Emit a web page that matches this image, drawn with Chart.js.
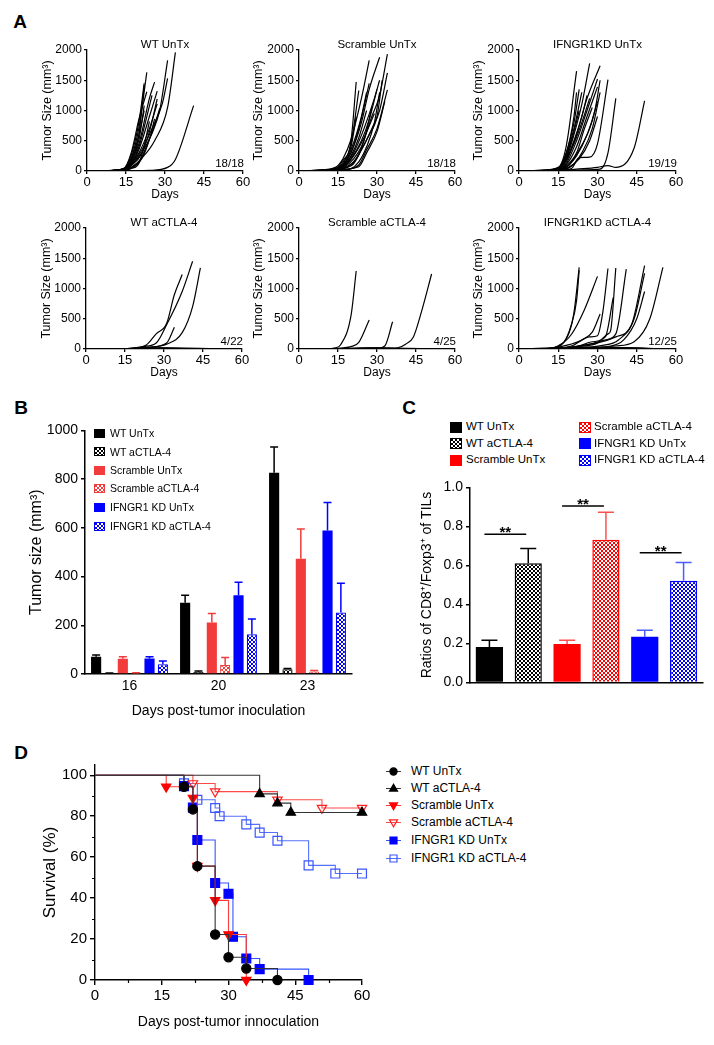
<!DOCTYPE html>
<html>
<head>
<meta charset="utf-8">
<script src="https://cdn.jsdelivr.net/npm/chart.js@4.4.1/dist/chart.umd.min.js"></script>
<style>
html,body{margin:0;padding:0;background:#fff;}
body{position:relative;width:714px;height:1045px;overflow:hidden;font-family:"Liberation Sans",Arial,Helvetica,sans-serif;color:#000;}
canvas{position:absolute;}
.tx{position:absolute;white-space:nowrap;line-height:1;}
.sw{position:absolute;box-sizing:border-box;}
</style>
</head>
<body>
<script>
// ================= DATA =================
// Panel A: individual tumor growth curves, [day, size mm3]
const dayTicks = [0, 15, 30, 45, 60];
const sizeTicks = [0, 500, 1000, 1500, 2000];
const aTitles = ['WT UnTx', 'Scramble UnTx', 'IFNGR1KD UnTx', 'WT aCTLA-4', 'Scramble aCTLA-4', 'IFNGR1KD  aCTLA-4'];
const aCounts = ['18/18', '18/18', '19/19', '4/22', '4/25', '12/25'];

const wtUntxMice = [
 [[0,0],[7,4],[14,30],[17,160],[20,620],[22,1420]],
 [[0,0],[7,5],[14,25],[17,210],[20,720],[23,1630]],
 [[0,0],[7,3],[14,40],[17,260],[20,820],[22,1450]],
 [[0,0],[7,6],[14,20],[17,180],[20,520],[22,1080]],
 [[0,0],[7,4],[14,35],[17,300],[20,860],[23,1310]],
 [[0,0],[7,5],[14,30],[17,160],[20,450],[24,1200],[26,1470]],
 [[0,0],[7,3],[14,20],[17,110],[20,360],[24,900],[27,1320]],
 [[0,0],[7,4],[14,25],[17,120],[20,300],[24,700],[27,1110]],
 [[0,0],[7,2],[14,15],[17,90],[21,300],[25,620],[28,1010],[31,1830]],
 [[0,0],[7,3],[14,10],[17,60],[21,210],[26,500],[31,1050],[34,1960]],
 [[0,0],[7,2],[14,20],[17,100],[21,340],[25,700],[29,1120],[31,1530]],
 [[0,0],[7,5],[14,25],[17,130],[20,400],[23,900],[25,1250]],
 [[0,0],[7,4],[14,30],[17,200],[20,600],[22,1000]],
 [[0,0],[7,2],[14,10],[17,50],[21,200],[24,520],[26,860]],
 [[0,0],[7,1],[14,15],[20,150],[23,420],[26,760],[28,1040]],
 [[0,0],[7,3],[14,20],[17,90],[21,280],[24,650],[27,1190]],
 [[0,0],[7,2],[14,5],[17,40],[20,130],[22,420],[24,820]],
 [[0,0],[14,0],[24,10],[31,60],[34,190],[41,1080]]
];
const scrUntxMice = [
 [[0,0],[7,10],[14,40],[17,150],[20,500],[22,1470]],
 [[0,0],[7,8],[14,30],[17,120],[20,450],[23,1330]],
 [[0,0],[7,15],[14,60],[17,210],[20,520],[24,1200],[27,1830]],
 [[0,0],[7,6],[14,20],[17,100],[20,300],[24,800],[27,1350],[31,1880]],
 [[0,0],[7,5],[14,15],[17,80],[21,300],[25,700],[29,1200],[31,1500]],
 [[0,0],[7,4],[14,10],[17,50],[21,200],[24,400],[28,900],[31,1250],[34,1930]],
 [[0,0],[7,3],[14,10],[17,40],[21,150],[24,350],[28,700],[31,1000],[34,1620]],
 [[0,0],[7,2],[14,5],[17,20],[23,100],[26,350],[30,700],[34,1340]],
 [[0,0],[7,6],[14,20],[17,90],[20,350],[24,900],[26,1300]],
 [[0,0],[7,7],[14,30],[17,100],[20,300],[23,700],[27,1450]],
 [[0,0],[7,4],[14,15],[17,60],[21,250],[25,550],[29,950]],
 [[0,0],[7,3],[14,10],[17,30],[23,70],[26,300],[30,650],[33,1150]],
 [[0,0],[7,5],[14,20],[17,80],[20,250],[23,550],[26,1000]],
 [[0,0],[7,2],[14,10],[18,60],[22,200],[25,500],[28,1050]],
 [[0,0],[7,9],[14,40],[17,180],[20,400],[22,900]],
 [[0,0],[7,1],[14,5],[20,40],[23,150],[26,400],[29,800],[31,1300]],
 [[0,0],[7,6],[14,30],[17,70],[20,200],[24,500],[27,850],[30,1350]],
 [[0,0],[7,2],[14,10],[18,50],[21,120],[24,350],[27,600],[30,900],[32,1500]]
];
const ifnUntxMice = [
 [[0,0],[8,10],[15,60],[18,400],[22,1650]],
 [[0,0],[8,8],[15,50],[18,300],[21,800],[23,1350]],
 [[0,0],[8,7],[15,40],[18,250],[21,700],[24,1300]],
 [[0,0],[8,6],[15,30],[18,200],[21,600],[24,1100],[27,1780]],
 [[0,0],[8,5],[15,20],[18,150],[22,600],[26,1200],[31,1740]],
 [[0,0],[8,5],[15,25],[18,120],[22,500],[26,1000],[30,1520]],
 [[0,0],[8,4],[15,20],[18,100],[22,400],[26,900],[30,1390]],
 [[0,0],[8,8],[15,40],[18,220],[21,650],[23,1000]],
 [[0,0],[8,6],[15,30],[18,180],[21,500],[24,900],[26,1250]],
 [[0,0],[8,3],[15,15],[19,90],[23,350],[27,700],[30,1150]],
 [[0,0],[8,2],[15,10],[19,60],[23,200],[27,500],[30,900]],
 [[0,0],[8,2],[15,10],[20,40],[23,220],[27,230],[30,450],[34,1510]],
 [[0,0],[8,1],[15,5],[25,20],[31,30],[34,300],[37,1200]],
 [[0,0],[8,1],[15,5],[22,30],[30,60],[34,90],[37,60],[44,380],[48,1160]],
 [[0,0],[8,7],[15,35],[18,200],[21,450],[24,800],[27,1200]],
 [[0,0],[8,4],[15,20],[18,80],[22,300],[25,700],[28,1050]],
 [[0,0],[8,9],[15,45],[18,280],[21,900],[22,1300]],
 [[0,0],[8,3],[15,15],[19,100],[22,250],[26,600],[29,1000],[31,1500]],
 [[0,0],[8,2],[15,10],[20,80],[24,300],[28,700],[31,1300]]
];
const wtCtlaMice = [
 [[0,0],[10,2],[17,10],[23,60],[27,250],[31,420],[34,900],[37,1230]],
 [[0,0],[10,2],[17,12],[22,40],[27,100],[31,400],[37,950],[41,1450]],
 [[0,0],[10,1],[17,8],[24,30],[31,100],[34,360]],
 [[0,0],[10,1],[17,6],[24,25],[31,80],[37,270],[41,700],[44,1340]],
 [[0,0],[15,3],[25,8],[60,0]], [[0,0],[14,5],[21,10],[60,0]], [[0,0],[16,4],[28,12],[60,0]],
 [[0,0],[13,2],[24,6],[60,0]], [[0,0],[17,6],[30,15],[60,0]], [[0,0],[15,4],[22,9],[60,0]],
 [[0,0],[18,5],[27,7],[60,0]], [[0,0],[14,3],[20,6],[60,0]], [[0,0],[16,6],[26,11],[60,0]],
 [[0,0],[15,2],[23,5],[60,0]], [[0,0],[17,4],[29,9],[60,0]], [[0,0],[13,3],[19,7],[60,0]],
 [[0,0],[18,7],[25,13],[60,0]], [[0,0],[14,4],[31,8],[60,0]], [[0,0],[16,3],[24,4],[60,0]],
 [[0,0],[15,5],[28,10],[60,0]], [[0,0],[17,2],[22,6],[60,0]], [[0,0],[14,6],[26,9],[60,0]]
];
const scrCtlaMice = [
 [[0,0],[10,2],[14,20],[16,70],[20,550],[22,1290]],
 [[0,0],[10,2],[17,20],[20,40],[23,110],[27,480]],
 [[0,0],[20,5],[30,10],[33,50],[36,450]],
 [[0,0],[20,3],[35,10],[38,20],[41,80],[44,200],[47,600],[51,1240]],
 [[0,0],[15,4],[24,10],[60,0]], [[0,0],[14,3],[22,8],[60,0]], [[0,0],[16,5],[27,12],[60,0]],
 [[0,0],[13,2],[21,6],[60,0]], [[0,0],[17,6],[29,14],[60,0]], [[0,0],[15,3],[23,7],[60,0]],
 [[0,0],[18,4],[26,9],[60,0]], [[0,0],[14,2],[20,5],[60,0]], [[0,0],[16,6],[25,10],[60,0]],
 [[0,0],[15,3],[30,6],[60,0]], [[0,0],[17,5],[28,11],[60,0]], [[0,0],[13,4],[19,8],[60,0]],
 [[0,0],[18,6],[24,12],[60,0]], [[0,0],[14,3],[32,7],[60,0]], [[0,0],[16,2],[23,4],[60,0]],
 [[0,0],[15,5],[27,9],[60,0]], [[0,0],[17,3],[21,6],[60,0]], [[0,0],[14,5],[26,8],[60,0]],
 [[0,0],[16,4],[29,10],[60,0]], [[0,0],[15,2],[22,5],[60,0]], [[0,0],[18,5],[31,9],[60,0]]
];
const ifnCtlaMice = [
 [[0,0],[10,5],[15,50],[19,250],[21,600],[23,1350]],
 [[0,0],[10,5],[16,60],[20,400],[22,800],[23,1300]],
 [[0,0],[10,4],[15,50],[20,240],[25,650],[30,1200]],
 [[0,0],[10,3],[20,50],[27,200],[30,220],[32,600],[34,1330]],
 [[0,0],[10,2],[25,50],[30,100],[34,250],[35,300],[37,1340]],
 [[0,0],[10,2],[27,80],[33,150],[37,250],[41,1320]],
 [[0,0],[10,2],[30,100],[37,200],[43,400],[48,1380]],
 [[0,0],[10,1],[32,60],[38,150],[44,500],[48,1250]],
 [[0,0],[10,1],[35,50],[40,150],[45,500],[48,950]],
 [[0,0],[10,1],[37,50],[44,120],[50,500],[55,1350]],
 [[0,0],[10,3],[18,60],[24,150],[28,280],[31,580]],
 [[0,0],[10,2],[22,40],[28,120],[33,200],[36,850]],
 [[0,0],[15,20],[25,30],[60,0]], [[0,0],[14,15],[22,25],[60,0]], [[0,0],[16,10],[28,20],[60,0]],
 [[0,0],[13,8],[21,15],[60,0]], [[0,0],[17,12],[30,18],[60,0]], [[0,0],[15,6],[23,10],[60,0]],
 [[0,0],[18,9],[26,14],[60,0]], [[0,0],[14,5],[20,9],[60,0]], [[0,0],[16,11],[27,16],[60,0]],
 [[0,0],[15,7],[31,12],[60,0]], [[0,0],[17,4],[24,8],[60,0]], [[0,0],[13,6],[19,10],[60,0]],
 [[0,0],[18,10],[29,13],[60,0]]
];

// Panel B: mean tumor size and SEM
const bDays = ['16', '20', '23'];
const bGroups = ['WT UnTx', 'WT aCTLA-4', 'Scramble UnTx', 'Scramble aCTLA-4', 'IFNGR1 KD UnTx', 'IFNGR1 KD aCTLA-4'];
const bWtUntx = [71, 292, 826];   const bWtUntxSem = [7, 31, 106];
const bWtCtla = [3, 8, 19];       const bWtCtlaSem = [1, 4, 4];
const bScrUntx = [63, 211, 473];  const bScrUntxSem = [8, 37, 122];
const bScrCtla = [4, 37, 10];     const bScrCtlaSem = [1, 31, 4];
const bIfnUntx = [64, 323, 589];  const bIfnUntxSem = [7, 54, 115];
const bIfnCtla = [40, 163, 252];  const bIfnCtlaSem = [13, 63, 121];
const bTicks = [0, 200, 400, 600, 800, 1000];

// Panel C: CD8+/Foxp3+ ratios
const cGroups = ['WT UnTx', 'WT aCTLA-4', 'Scramble UnTx', 'Scramble aCTLA-4', 'IFNGR1 KD UnTx', 'IFNGR1 KD aCTLA-4'];
const cRatio = [0.182, 0.612, 0.198, 0.732, 0.235, 0.522];
const cSem = [0.035, 0.075, 0.019, 0.141, 0.033, 0.093];
const cTicks = [0, 0.2, 0.4, 0.6, 0.8, 1.0];
const cSigPairs = [[0, 1, 0.76], [2, 3, 0.905], [4, 5, 0.665]];
const cSigText = ['**', '**', '**'];

// Panel D: Kaplan-Meier survival (day, % survival)
const dWtUntxT = [0, 20, 22, 23, 27, 30, 34, 41];
const dWtUntxS = [100, 94.4, 83.3, 55.6, 22.2, 11.1, 5.6, 0];
const dWtCtlaT = [0, 37, 41, 44, 60];
const dWtCtlaS = [100, 90.9, 86.4, 81.8, 81.8];
const dScrUntxT = [0, 16, 22, 23, 27, 30, 34];
const dScrUntxS = [100, 94.4, 88.9, 55.6, 38.9, 22.2, 0];
const dScrCtlaT = [0, 22, 27, 41, 51, 60];
const dScrCtlaS = [100, 96, 92, 88, 84, 84];
const dIfnUntxT = [0, 20, 22, 23, 27, 30, 31, 34, 37, 48];
const dIfnUntxS = [100, 94.7, 84.2, 68.4, 47.4, 42.1, 21.1, 10.5, 5.3, 0];
const dIfnCtlaT = [0, 20, 23, 27, 28, 34, 37, 41, 48, 54, 60];
const dIfnCtlaS = [100, 96, 88, 84, 80, 76, 72, 68, 56, 52, 52];
const dLabels = ['WT UnTx', 'WT aCTLA-4', 'Scramble UnTx', 'Scramble aCTLA-4', 'IFNGR1 KD UnTx', 'IFNGR1 KD aCTLA-4'];
const dTicksY = [0, 20, 40, 60, 80, 100];
const dMinorX = [7.5, 22.5, 37.5, 52.5];
const dMinorY = [10, 30, 50, 70, 90];

// ================= HELPERS =================
Chart.defaults.font.family = "'Liberation Sans', Arial, Helvetica, sans-serif";
Chart.defaults.color = '#000';
Chart.defaults.animation = false;
Chart.defaults.plugins.legend.display = false;
Chart.defaults.plugins.tooltip.enabled = false;

function makeCanvas(g) {
  const lhY = g.yTitleSize * 1.2;
  const cl = Math.round(g.yTitleX - lhY / 2);
  const ct = g.T - g.padTop;
  const yW = g.L - cl;
  const xH = g.xTitleY ? Math.round(g.xTitleY + g.xTitleSize * 1.2 / 2 - g.B) : g.xH;
  const w = g.R - cl + g.padRight;
  const h = g.B - ct + xH;
  const c = document.createElement('canvas');
  c.width = w; c.height = h;
  c.style.left = cl + 'px'; c.style.top = ct + 'px';
  c.style.width = w + 'px'; c.style.height = h + 'px';
  document.body.appendChild(c);
  return {canvas: c, yW, xH, padTop: g.padTop, padRight: g.padRight};
}

function axis(f, a, pos) {
  const isX = pos === 'bottom';
  const o = {
    type: a.type || 'linear', position: pos,
    afterFit: s => { if (isX) s.height = f.xH; else s.width = f.yW; },
    ticks: {display: a.showTicks !== false, font: {size: a.tickSize}, color: '#000', padding: a.tickPad, maxRotation: 0, autoSkip: false},
    grid: {display: true, drawOnChartArea: false, drawTicks: a.tickLen > 0, tickLength: a.tickLen || 0, color: '#000', lineWidth: a.lw},
    border: {display: true, color: '#000', width: a.lw},
    title: {display: !!a.title, text: a.title || '', font: {size: a.titleSize || 12}, color: '#000', padding: 0}
  };
  if (a.min !== undefined) o.min = a.min;
  if (a.max !== undefined) o.max = a.max;
  if (a.ticks) o.afterBuildTicks = s => { s.ticks = a.ticks.map(v => ({value: v})); };
  if (a.fmt) o.ticks.callback = a.fmt;
  return o;
}

function txt(s, x, y, size, align, extra) {
  const d = document.createElement('div');
  d.className = 'tx';
  d.textContent = s;
  d.style.fontSize = size + 'px';
  d.style.left = x + 'px'; d.style.top = y + 'px';
  const tx = align === 'left' ? '0' : align === 'right' ? '-100%' : '-50%';
  d.style.transform = 'translate(' + tx + ',-50%)';
  if (extra) Object.assign(d.style, extra);
  document.body.appendChild(d);
  return d;
}

function checkTile(color) {
  const c = document.createElement('canvas'); c.width = 4; c.height = 4;
  const x = c.getContext('2d');
  x.fillStyle = '#fff'; x.fillRect(0, 0, 4, 4);
  x.fillStyle = color; x.fillRect(0, 0, 2, 2); x.fillRect(2, 2, 2, 2);
  return c;
}
const patCtx = document.createElement('canvas').getContext('2d');
function checkPattern(color) { return patCtx.createPattern(checkTile(color), 'repeat'); }

const errorBars = {
  id: 'errorBars',
  afterDatasetsDraw(chart, args, opts) {
    const ctx = chart.ctx;
    chart.data.datasets.forEach((ds, i) => {
      if (!ds.errors) return;
      const meta = chart.getDatasetMeta(i);
      const ys = chart.scales[meta.yAxisID];
      meta.data.forEach((bar, j) => {
        const top = ys.getPixelForValue(ds.data[j] + ds.errors[j]);
        const col = Array.isArray(ds.errColor) ? ds.errColor[j] : ds.errColor;
        ctx.save();
        ctx.strokeStyle = col; ctx.lineWidth = opts.width;
        ctx.beginPath();
        ctx.moveTo(bar.x, bar.y); ctx.lineTo(bar.x, top);
        ctx.moveTo(bar.x - opts.cap, top); ctx.lineTo(bar.x + opts.cap, top);
        ctx.stroke();
        ctx.restore();
      });
    });
  }
};

const sigBars = {
  id: 'sigBars',
  afterDatasetsDraw(chart, args, o) {
    if (!o.pairs) return;
    const ctx = chart.ctx, xs = chart.scales.x, ys = chart.scales.y;
    o.pairs.forEach((p, k) => {
      const x1 = xs.getPixelForValue(p[0]) - 5, x2 = xs.getPixelForValue(p[1]) - 2;
      const y = ys.getPixelForValue(p[2]);
      ctx.save();
      ctx.strokeStyle = '#000'; ctx.lineWidth = 1.5;
      ctx.beginPath(); ctx.moveTo(x1, y); ctx.lineTo(x2, y); ctx.stroke();
      ctx.fillStyle = '#000';
      ctx.font = "bold 15px 'Liberation Sans', Arial, sans-serif";
      ctx.textAlign = 'center'; ctx.textBaseline = 'alphabetic';
      ctx.fillText(o.labels[k], (x1 + x2) / 2, y + 3);
      ctx.restore();
    });
  }
};

const minorTicks = {
  id: 'minorTicks',
  afterDraw(chart, args, o) {
    if (!o.x) return;
    const ctx = chart.ctx, xs = chart.scales.x, ys = chart.scales.y, a = chart.chartArea;
    ctx.save(); ctx.strokeStyle = '#000'; ctx.lineWidth = 1.2; ctx.beginPath();
    o.x.forEach(v => { const px = Math.round(xs.getPixelForValue(v)) + 0.5; ctx.moveTo(px, a.bottom); ctx.lineTo(px, a.bottom + o.len); });
    o.y.forEach(v => { const py = Math.round(ys.getPixelForValue(v)) + 0.5; ctx.moveTo(a.left, py); ctx.lineTo(a.left - o.len, py); });
    ctx.stroke(); ctx.restore();
  }
};

// ================= PANEL LETTERS =================
txt('A', 20, 21, 19, 'center', {fontWeight: 'bold'});
txt('B', 21, 407, 19, 'center', {fontWeight: 'bold'});
txt('C', 409, 407, 19, 'center', {fontWeight: 'bold'});
txt('D', 21, 752, 19, 'center', {fontWeight: 'bold'});

// ================= PANEL A =================
const aLayout = [
  {mice: wtUntxMice,  L: 87,  T: 50,  R: 243, B: 171, yTX: 47,  xTY: 195},
  {mice: scrUntxMice, L: 299, T: 50,  R: 455, B: 171, yTX: 258, xTY: 195},
  {mice: ifnUntxMice, L: 519, T: 50,  R: 676, B: 171, yTX: 478, xTY: 195},
  {mice: wtCtlaMice,  L: 86,  T: 228, R: 242, B: 349, yTX: 46,  xTY: 373},
  {mice: scrCtlaMice, L: 299, T: 228, R: 455, B: 349, yTX: 258, xTY: 373},
  {mice: ifnCtlaMice, L: 519, T: 228, R: 676, B: 349, yTX: 478, xTY: 373}
];
aLayout.forEach((p, i) => {
  const f = makeCanvas({L: p.L, T: p.T, R: p.R, B: p.B, yTitleX: p.yTX, yTitleSize: 12.5, xTitleY: p.xTY, xTitleSize: 12, padTop: 10, padRight: 12});
  new Chart(f.canvas, {
    type: 'line',
    data: {datasets: p.mice.map(m => ({
      data: m.map(q => ({x: q[0], y: q[1]})),
      borderColor: '#000', borderWidth: 1.2, pointRadius: 0, fill: false,
      cubicInterpolationMode: 'monotone'
    }))},
    options: {
      responsive: false,
      layout: {padding: {top: f.padTop, right: f.padRight, left: 0, bottom: 0}},
      scales: {
        x: axis(f, {min: 0, max: 60, ticks: dayTicks, tickSize: 13, tickLen: 3, tickPad: 1, lw: 1.3, title: 'Days', titleSize: 12, fmt: v => String(v)}, 'bottom'),
        y: axis(f, {min: 0, max: 2000, ticks: sizeTicks, tickSize: 12, tickLen: 3, tickPad: 2, lw: 1.3, title: 'Tumor Size (mm\u00B3)', titleSize: 12.5, fmt: v => String(v)}, 'left')
      }
    }
  });
  txt(aTitles[i], (p.L + p.R) / 2, p.T - 5, 11.5, 'center');
  txt(aCounts[i], p.R + 1, p.B - 7, 11.5, 'right');
});

// ================= PANEL B =================
const bMeans = [bWtUntx, bWtCtla, bScrUntx, bScrCtla, bIfnUntx, bIfnCtla];
const bSems = [bWtUntxSem, bWtCtlaSem, bScrUntxSem, bScrCtlaSem, bIfnUntxSem, bIfnCtlaSem];
const bColors = ['#000000', '#000000', '#f23c3c', '#f23c3c', '#0000ff', '#0000ff'];
const bChecked = [false, true, false, true, false, true];
(function () {
  const f = makeCanvas({L: 85, T: 429, R: 352, B: 674, yTitleX: 37, yTitleSize: 16, xTitleY: 712, xTitleSize: 14, padTop: 10, padRight: 12});
  new Chart(f.canvas, {
    type: 'bar',
    data: {
      labels: bDays,
      datasets: bGroups.map((g, i) => ({
        label: g, data: bMeans[i], errors: bSems[i], errColor: bColors[i],
        backgroundColor: bChecked[i] ? checkPattern(bColors[i]) : bColors[i],
        borderColor: bColors[i], borderWidth: bChecked[i] ? 1.2 : 0,
        barPercentage: 0.76, categoryPercentage: 0.9
      }))
    },
    options: {
      responsive: false,
      layout: {padding: {top: f.padTop, right: f.padRight, left: 0, bottom: 0}},
      scales: {
        x: axis(f, {type: 'category', tickSize: 14, tickLen: 0, tickPad: 4, lw: 1.5, title: 'Days post-tumor inoculation', titleSize: 14}, 'bottom'),
        y: axis(f, {min: 0, max: 1000, ticks: bTicks, tickSize: 14, tickLen: 4, tickPad: 3, lw: 1.5, title: 'Tumor size (mm\u00B3)', titleSize: 16, fmt: v => String(v)}, 'left')
      },
      plugins: {errorBars: {width: 1.5, cap: 4}}
    },
    plugins: [errorBars]
  });
  const rows = [433, 451.7, 470, 488.3, 507.3, 526];
  bGroups.forEach((g, i) => {
    const s = document.createElement('div');
    s.className = 'sw';
    Object.assign(s.style, {left: '94px', top: (rows[i] - 4.5) + 'px', width: '11px', height: '9px'});
    if (bChecked[i]) { s.style.backgroundImage = 'url(' + checkTile(bColors[i]).toDataURL() + ')'; s.style.border = '1px solid ' + bColors[i]; }
    else s.style.background = bColors[i];
    document.body.appendChild(s);
    txt(g, 110, rows[i], 10.5, 'left');
  });
})();

// ================= PANEL C =================
const cColors = ['#000000', '#000000', '#ff0000', '#ff0000', '#0000ff', '#0000ff'];
const cErrColors = ['#000000', '#000000', '#ff5050', '#ff5050', '#4a5cff', '#4a5cff'];
const cChecked = [false, true, false, true, false, true];
(function () {
  const f = makeCanvas({L: 470, T: 486, R: 703, B: 686, yTitleX: 427, yTitleSize: 14, xH: 8, padTop: 10, padRight: 8});
  new Chart(f.canvas, {
    type: 'bar',
    data: {
      labels: cGroups,
      datasets: [{
        data: cRatio, errors: cSem, errColor: cErrColors,
        backgroundColor: cColors.map((c, i) => cChecked[i] ? checkPattern(c) : c),
        borderColor: cColors, borderWidth: cChecked.map(k => k ? 1.5 : 0),
        barPercentage: 0.7, categoryPercentage: 1.0
      }]
    },
    options: {
      responsive: false,
      layout: {padding: {top: f.padTop, right: f.padRight, left: 0, bottom: 0}},
      scales: {
        x: axis(f, {type: 'category', showTicks: false, tickSize: 12, tickLen: 0, tickPad: 0, lw: 1.5}, 'bottom'),
        y: axis(f, {min: 0, max: 1, ticks: cTicks, tickSize: 14, tickLen: 4, tickPad: 3, lw: 1.5, title: 'Ratios of CD8\u207A/Foxp3\u207A of TILs', titleSize: 14, fmt: v => v.toFixed(1)}, 'left')
      },
      plugins: {errorBars: {width: 1.5, cap: 8}, sigBars: {pairs: cSigPairs, labels: cSigText}}
    },
    plugins: [errorBars, sigBars]
  });
  const rows = [427, 443.5, 460];
  cGroups.forEach((g, i) => {
    const col = i < 3 ? 0 : 1, r = i % 3;
    const sx = col === 0 ? 450 : 579, tx = col === 0 ? 466 : 594;
    const s = document.createElement('div');
    s.className = 'sw';
    Object.assign(s.style, {left: sx + 'px', top: (rows[r] - 5.5) + 'px', width: '12px', height: '11px'});
    if (cChecked[i]) { s.style.backgroundImage = 'url(' + checkTile(cColors[i]).toDataURL() + ')'; s.style.border = '1px solid ' + cColors[i]; }
    else s.style.background = cColors[i];
    document.body.appendChild(s);
    txt(g, tx, rows[r], 11.5, 'left');
  });
})();

// ================= PANEL D =================
const dStyles = [
  {line: '#333333', mk: '#000000', fill: '#000000', style: 'circle', rot: 0, r: 4.6},
  {line: '#333333', mk: '#000000', fill: '#000000', style: 'triangle', rot: 0, r: 5.4},
  {line: '#ff3b3b', mk: '#ff0000', fill: '#ff0000', style: 'triangle', rot: 180, r: 5.4},
  {line: '#ff4a4a', mk: '#ff2020', fill: 'rgba(255,255,255,0)', style: 'triangle', rot: 180, r: 5.4},
  {line: '#3355ff', mk: '#0000ff', fill: '#0000ff', style: 'rect', rot: 0, r: 6.3},
  {line: '#5570ff', mk: '#3a55ff', fill: 'rgba(255,255,255,0)', style: 'rect', rot: 0, r: 6.3}
];
const dT = [dWtUntxT, dWtCtlaT, dScrUntxT, dScrCtlaT, dIfnUntxT, dIfnCtlaT];
const dS = [dWtUntxS, dWtCtlaS, dScrUntxS, dScrCtlaS, dIfnUntxS, dIfnCtlaS];
(function () {
  const f = makeCanvas({L: 95, T: 763, R: 362, B: 980, yTitleX: 50, yTitleSize: 17, xTitleY: 1023, xTitleSize: 14, padTop: 10, padRight: 12});
  new Chart(f.canvas, {
    type: 'line',
    data: {
      datasets: dLabels.map((lab, i) => {
        const st = dStyles[i];
        return {
          label: lab,
          data: dT[i].map((t, k) => ({x: t, y: dS[i][k]})),
          stepped: 'before', fill: false,
          borderColor: st.line, borderWidth: 1.1,
          pointStyle: st.style, pointRotation: st.rot,
          pointRadius: c => c.dataIndex === 0 ? 0 : st.r,
          pointBackgroundColor: st.fill, pointBorderColor: st.mk, pointBorderWidth: 1.2,
          clip: 12
        };
      })
    },
    options: {
      responsive: false,
      layout: {padding: {top: f.padTop, right: f.padRight, left: 0, bottom: 0}},
      scales: {
        x: axis(f, {min: 0, max: 60, ticks: dayTicks, tickSize: 15, tickLen: 5, tickPad: 2, lw: 1.4, title: 'Days post-tumor innoculation', titleSize: 14, fmt: v => String(v)}, 'bottom'),
        y: axis(f, {min: 0, max: 105, ticks: dTicksY, tickSize: 15, tickLen: 5, tickPad: 3, lw: 1.4, title: 'Survival (%)', titleSize: 17, fmt: v => String(v)}, 'left')
      },
      plugins: {minorTicks: {x: dMinorX, y: dMinorY, len: 3}}
    },
    plugins: [minorTicks]
  });
  // legend
  const rows = [771, 788.3, 805, 821.7, 840, 857.7];
  dLabels.forEach((lab, i) => {
    const st = dStyles[i];
    const c = document.createElement('canvas');
    c.width = 20; c.height = 14;
    c.style.left = '383px'; c.style.top = (rows[i] - 7) + 'px';
    document.body.appendChild(c);
    const x = c.getContext('2d');
    x.strokeStyle = st.line; x.lineWidth = 1;
    x.beginPath(); x.moveTo(3, 7.5); x.lineTo(18, 7.5); x.stroke();
    x.fillStyle = st.fill; x.strokeStyle = st.mk; x.lineWidth = 1.2;
    x.beginPath();
    const cx = 10.5, cy = 7.5;
    if (st.style === 'circle') { x.arc(cx, cy, 3.6, 0, Math.PI * 2); }
    else if (st.style === 'rect') { x.rect(cx - 3.5, cy - 3.5, 7, 7); }
    else {
      const d = st.rot ? 1 : -1;
      x.moveTo(cx, cy + d * 4.2); x.lineTo(cx - 4, cy - d * 2.6); x.lineTo(cx + 4, cy - d * 2.6); x.closePath();
    }
    x.fill(); x.stroke();
    txt(lab, 411, rows[i], 12, 'left');
  });
})();
</script>
</body>
</html>
